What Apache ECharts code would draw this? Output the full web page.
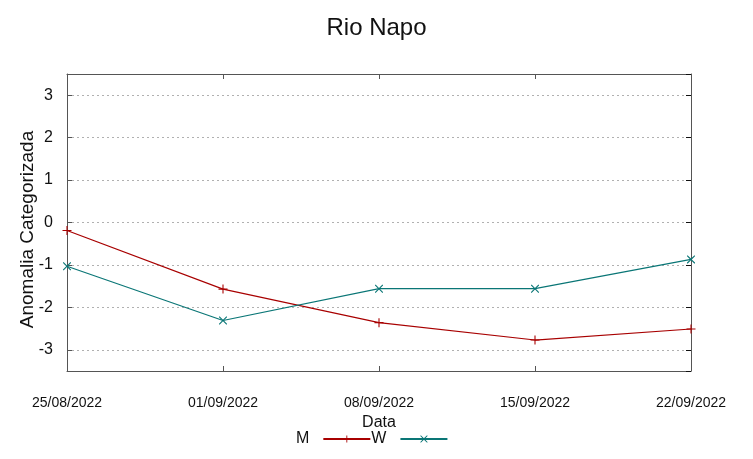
<!DOCTYPE html>
<html>
<head>
<meta charset="utf-8">
<script src="https://cdn.jsdelivr.net/npm/echarts@6/dist/echarts.min.js"></script>
<style>html,body{margin:0;padding:0;background:#fff}#c{width:753px;height:459px}</style>
</head>
<body>
<div id="c"></div>
<script>
const titleText = 'Rio Napo';
const xName = 'Data';
const yName = 'Anomalia Categorizada';
const dates = ['25/08/2022', '01/09/2022', '08/09/2022', '15/09/2022', '22/09/2022'];
const seriesM = [-0.19, -1.57, -2.36, -2.77, -2.51];
const seriesW = [-1.03, -2.31, -1.56, -1.56, -0.87];
const yMin = -3.5, yMax = 3.5;

const FONT = '"Liberation Sans", Arial, sans-serif';
const plusPath = 'path://M0,4.4h10v1.2h-10z M4.4,0h1.2v10h-1.2z';
const crossPath = 'path://M0,0L1,0L5,4L9,0L10,0L10,1L6,5L10,9L10,10L9,10L5,6L1,10L0,10L0,9L4,5L0,1Z';
const frame = '#555';

const chart = echarts.init(document.getElementById('c'), null, {renderer: 'canvas'});
chart.setOption({
  animation: false,
  backgroundColor: '#fff',
  title: {
    text: titleText, left: 'center', top: 11,
    textStyle: {fontFamily: FONT, fontSize: 24, fontWeight: 'normal', color: '#111'}
  },
  grid: {left: 67, right: 62, top: 74, bottom: 88, show: false},
  legend: {
    bottom: 7, left: 291, align: 'right', itemGap: 0,
    itemWidth: 47, itemHeight: 9,
    textStyle: {fontFamily: FONT, fontSize: 16, color: '#111', padding: [0, 9, 0, 0]},
    data: ['M', 'W']
  },
  xAxis: [{
    type: 'category', data: dates, boundaryGap: false, position: 'bottom',
    name: xName, nameLocation: 'middle', nameGap: 44,
    nameTextStyle: {fontFamily: FONT, fontSize: 16, color: '#111'},
    axisLine: {show: true, onZero: false, lineStyle: {color: frame, width: 1}},
    axisTick: {show: true, inside: true, length: 5, lineStyle: {color: frame}},
    axisLabel: {fontFamily: FONT, fontSize: 14, color: '#111', margin: 25, showMinLabel: true, showMaxLabel: true, interval: 0},
    splitLine: {show: false}
  }, {
    type: 'category', data: dates, boundaryGap: false, position: 'top',
    axisLine: {show: true, onZero: false, lineStyle: {color: frame, width: 1}},
    axisTick: {show: true, inside: true, length: 5, lineStyle: {color: frame}},
    axisLabel: {show: false}, splitLine: {show: false}
  }],
  yAxis: [{
    type: 'value', min: yMin, max: yMax, splitNumber: 7, position: 'left',
    name: yName, nameLocation: 'middle', nameGap: 30, nameRotate: 90, nameMoveOverlap: false,
    nameTextStyle: {fontFamily: FONT, fontSize: 19, color: '#111', padding: [0, 14, 0, 0]},
    axisLine: {show: true, onZero: false, lineStyle: {color: frame, width: 1}},
    axisTick: {show: true, inside: true, length: 5, lineStyle: {color: frame}},
    axisLabel: {fontFamily: FONT, fontSize: 16, color: '#111', margin: 14, showMinLabel: false, showMaxLabel: false},
    splitLine: {show: true, lineStyle: {color: '#b0b0b0', width: 1, type: [2, 3]}}
  }, {
    type: 'value', min: yMin, max: yMax, splitNumber: 7, position: 'right',
    axisLine: {show: true, onZero: false, lineStyle: {color: frame, width: 1}},
    axisTick: {show: true, inside: true, length: 5, lineStyle: {color: '#111'}},
    axisLabel: {show: false}, splitLine: {show: false}
  }],
  series: [{
    name: 'M', type: 'line', data: seriesM, xAxisIndex: 0, yAxisIndex: 0,
    symbol: plusPath, symbolSize: 9, showAllSymbol: true,
    lineStyle: {color: '#a80000', width: 1.2},
    itemStyle: {color: '#a80000'}
  }, {
    name: 'W', type: 'line', data: seriesW, xAxisIndex: 0, yAxisIndex: 0,
    symbol: crossPath, symbolSize: 8, showAllSymbol: true,
    lineStyle: {color: '#0a7676', width: 1.2},
    itemStyle: {color: '#0a7676'}
  }]
});
</script>
</body>
</html>
